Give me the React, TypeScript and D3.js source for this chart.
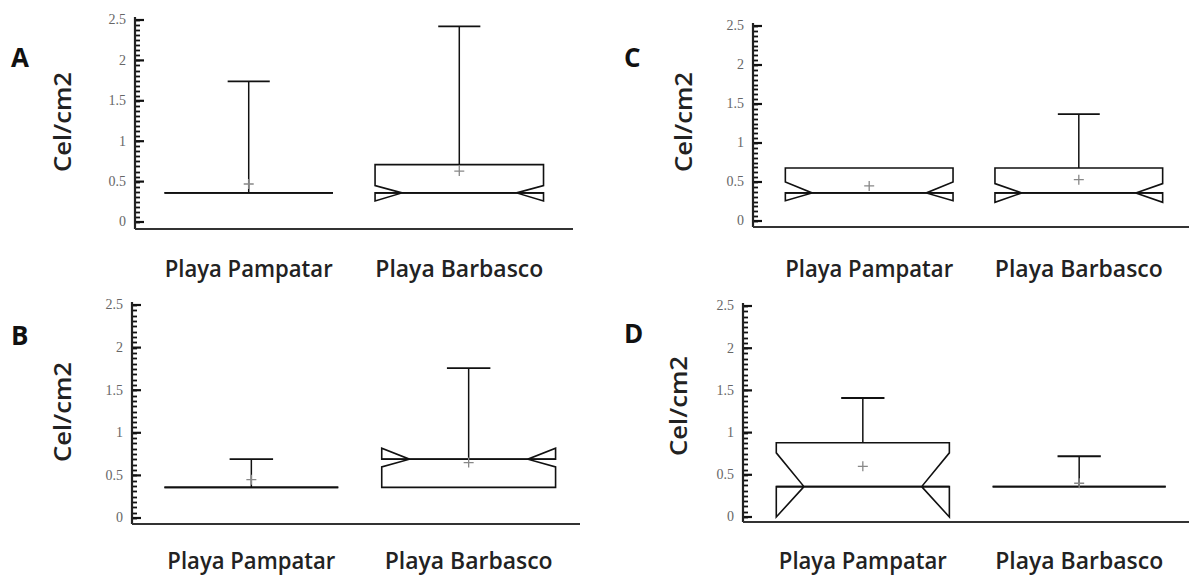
import React, { useEffect, useRef } from "react";
import * as d3 from "d3";

// sites on the x axis
const categories = ["Playa Pampatar", "Playa Barbasco"];
const panelLetters = ["A", "B", "C", "D"];
const yTickValues = [0, 0.5, 1, 1.5, 2, 2.5];

// box statistics, one row per panel (A, B, C, D), one value per site
const q1Values = [[0.36, 0.36], [0.36, 0.36], [0.36, 0.36], [0.36, 0.36]];
const medianValues = [[0.36, 0.36], [0.36, 0.69], [0.36, 0.36], [0.36, 0.36]];
const q3Values = [[0.36, 0.71], [0.36, 0.69], [0.68, 0.68], [0.88, 0.36]];
const upperWhiskers = [[1.74, 2.42], [0.69, 1.76], [0.68, 1.37], [1.41, 0.72]];
const meanValues = [[0.47, 0.63], [0.45, 0.65], [0.45, 0.53], [0.6, 0.4]];
const notchLow = [[0.36, 0.26], [0.36, 0.6], [0.26, 0.24], [0.0, 0.36]];
const notchHigh = [[0.36, 0.45], [0.36, 0.82], [0.5, 0.48], [0.76, 0.36]];

// where each panel sits in the picture
const layout = [
  { axisX: 135, xEnd: 573, band: [135, 573], yTop: 20, yZero: 222, xAxisY: 229, labelY: 277, letterX: 11, letterY: 67, ylabX: 62, ylabY: 122 },
  { axisX: 132, xEnd: 580, band: [134, 586], yTop: 305, yZero: 518, xAxisY: 524, labelY: 569, letterX: 11, letterY: 345, ylabX: 62, ylabY: 412 },
  { axisX: 753, xEnd: 1189, band: [756, 1192], yTop: 26, yZero: 221, xAxisY: 227, labelY: 277, letterX: 624, letterY: 67, ylabX: 683, ylabY: 122 },
  { axisX: 743, xEnd: 1189, band: [746, 1196], yTop: 306, yZero: 517, xAxisY: 522, labelY: 569, letterX: 624, letterY: 343, ylabX: 678, ylabY: 406 },
];

const W = 1189;
const H = 578;
const sans = "'Open Sans', 'Noto Sans', sans-serif";

export default function App() {
  const svgRef = useRef<SVGSVGElement>(null);

  useEffect(() => {
    const svg = d3.select(svgRef.current);
    svg.selectAll("*").remove();

    layout.forEach((L, p) => {
      const g = svg.append("g");
      const y = d3.scaleLinear().domain([0, 2.5]).range([L.yZero, L.yTop]);
      const x = d3.scaleBand().domain(categories).range(L.band as [number, number])
        .paddingInner(0.2).paddingOuter(0.14);

      // minor ticks (ruler)
      const minor = d3.range(0, 2.5001, 0.0625);
      g.selectAll("line.minor").data(minor).enter().append("line")
        .attr("class", "minor")
        .attr("x1", L.axisX).attr("x2", L.axisX + 5)
        .attr("y1", (d) => Math.round(y(d)) + 0.5).attr("y2", (d) => Math.round(y(d)) + 0.5)
        .attr("stroke", "#111").attr("stroke-width", 1.8);

      // major ticks + labels
      g.selectAll("line.major").data(yTickValues).enter().append("line")
        .attr("class", "major")
        .attr("x1", L.axisX).attr("x2", L.axisX + 9)
        .attr("y1", (d) => y(d)).attr("y2", (d) => y(d))
        .attr("stroke", "#111").attr("stroke-width", 2.2);
      g.selectAll("text.tick").data(yTickValues).enter().append("text")
        .attr("class", "tick")
        .attr("x", L.axisX - 9).attr("y", (d) => y(d))
        .attr("dy", "0.32em").attr("text-anchor", "end")
        .attr("font-family", "'Liberation Serif', 'DejaVu Serif', serif")
        .attr("font-size", 14).attr("fill", "#666")
        .text((d) => d3.format("")(d));

      // axis lines
      g.append("line").attr("x1", L.axisX).attr("x2", L.axisX)
        .attr("y1", y(2.5) - 3).attr("y2", L.xAxisY)
        .attr("stroke", "#222").attr("stroke-width", 2.2);
      g.append("line").attr("x1", L.axisX).attr("x2", L.xEnd)
        .attr("y1", L.xAxisY).attr("y2", L.xAxisY)
        .attr("stroke", "#333").attr("stroke-width", 2.2);

      categories.forEach((c, i) => {
        const left = x(c)!;
        const bw = x.bandwidth();
        const right = left + bw;
        const cx = left + bw / 2;
        const ind = bw * 0.16;
        const q1 = q1Values[p][i], med = medianValues[p][i], q3 = q3Values[p][i];
        const nLo = notchLow[p][i], nHi = notchHigh[p][i];
        const hiWh = upperWhiskers[p][i];

        // whisker
        if (hiWh > q3) {
          const capW = bw * 0.25;
          g.append("line").attr("x1", cx).attr("x2", cx)
            .attr("y1", y(q3)).attr("y2", y(hiWh))
            .attr("stroke", "#111").attr("stroke-width", 1.5);
          g.append("line").attr("x1", cx - capW / 2).attr("x2", cx + capW / 2)
            .attr("y1", y(hiWh)).attr("y2", y(hiWh))
            .attr("stroke", "#111").attr("stroke-width", 1.8);
        }

        // notched box outline
        const pts: [number, number][] = [
          [left, y(q3)], [left, y(nHi)], [left + ind, y(med)], [left, y(nLo)], [left, y(q1)],
          [right, y(q1)], [right, y(nLo)], [right - ind, y(med)], [right, y(nHi)], [right, y(q3)],
        ];
        g.append("path")
          .attr("d", d3.line()(pts) + "Z")
          .attr("fill", "none").attr("stroke", "#111").attr("stroke-width", 1.6)
          .attr("stroke-linejoin", "miter");
        // median line
        g.append("line").attr("x1", left).attr("x2", right)
          .attr("y1", y(med)).attr("y2", y(med))
          .attr("stroke", "#111").attr("stroke-width", 1.8);

        // mean marker
        const my = y(meanValues[p][i]);
        g.append("path")
          .attr("d", `M${cx - 5},${my}H${cx + 5}M${cx},${my - 5}V${my + 5}`)
          .attr("stroke", "#888").attr("stroke-width", 1.3);

        // category label
        g.append("text").attr("x", cx).attr("y", L.labelY)
          .attr("text-anchor", "middle")
          .attr("font-family", sans).attr("font-weight", 600).attr("font-size", 23)
          .attr("fill", "#222")
          .attr("textLength", 168).attr("lengthAdjust", "spacingAndGlyphs")
          .text(c);
      });

      // y label
      g.append("text")
        .attr("transform", `translate(${L.ylabX + 9},${L.ylabY}) rotate(-90)`)
        .attr("text-anchor", "middle")
        .attr("font-family", sans).attr("font-weight", 600).attr("font-size", 24)
        .attr("fill", "#222")
        .attr("textLength", 100).attr("lengthAdjust", "spacingAndGlyphs")
        .text("Cel/cm2");

      // panel letter
      g.append("text").attr("x", L.letterX).attr("y", L.letterY)
        .attr("font-family", sans).attr("font-weight", 700).attr("font-size", 26)
        .attr("fill", "#111")
        .text(panelLetters[p]);
    });
  }, []);

  return (
    <div style={{ position: "absolute", left: 0, top: 0 }}>
      <svg ref={svgRef} width={W} height={H} style={{ display: "block", background: "#fff" }} />
    </div>
  );
}
